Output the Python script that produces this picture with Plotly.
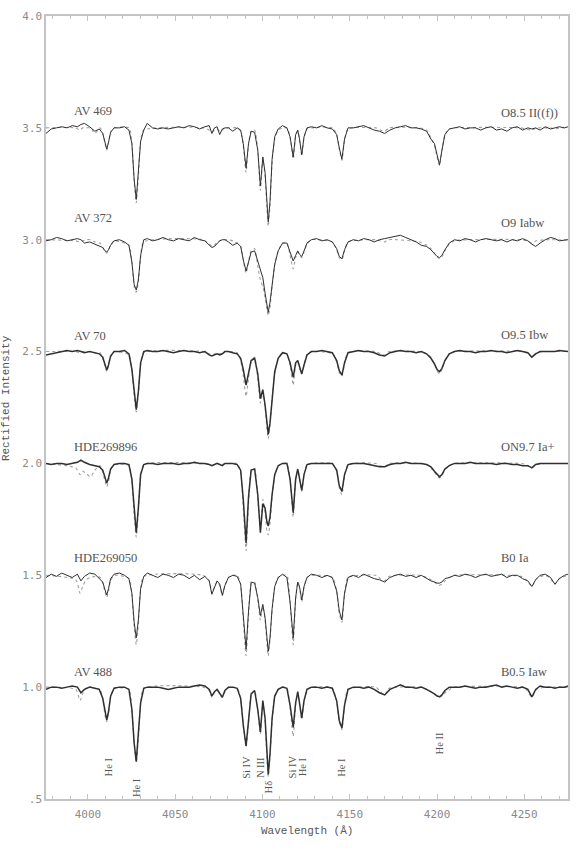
import plotly.graph_objects as go

# ---------------- data ----------------
STARS = ["AV 469", "AV 372", "AV 70", "HDE269896", "HDE269050", "AV 488"]
SPTYPES = ["O8.5 II((f))", "O9 Iabw", "O9.5 Ibw", "ON9.7 Ia+", "B0 Ia", "B0.5 Iaw"]

# observed-spectrum wavelength grid (Angstrom)
WAVE_OBS = [
    3976, 3979, 3982, 3985, 3988, 3991, 3994, 3996, 3998, 4001, 4004, 4006.5,
    4008.5, 4009.8, 4010.8, 4011.8, 4013, 4015,
    4018, 4021, 4023.5,
    4025.2, 4026.5, 4027.7, 4028.9, 4030.2, 4032,
    4034, 4037, 4040, 4043, 4046, 4049, 4052, 4055, 4058, 4061, 4064, 4067,
    4069.5, 4071, 4072.5, 4074, 4075.5, 4077, 4078.5, 4080.5, 4083, 4085.5,
    4087.5, 4089, 4090.6, 4092, 4093.5, 4095.5,
    4097.3, 4098.8, 4100.2, 4101.5, 4102.5, 4103.3, 4104.3, 4105.5, 4107, 4109, 4111.5,
    4114, 4115.8, 4117.6, 4119, 4120.2, 4121.2, 4122.5, 4123.8, 4125.5,
    4128, 4131, 4134, 4137, 4140, 4142.5, 4144, 4145.5, 4147, 4149,
    4152, 4155, 4158, 4161, 4164, 4167, 4170, 4173, 4176, 4179, 4182, 4185, 4188, 4191, 4194, 4196.5,
    4198.5, 4200, 4201.4, 4202.8, 4204.5, 4207,
    4210, 4213, 4216, 4219, 4222, 4225, 4228, 4231, 4234, 4237, 4240, 4243, 4246, 4249, 4252, 4254.3,
    4256.5, 4259, 4262, 4265, 4267.5, 4270, 4273, 4275,
]

# model-spectrum wavelength grid (Angstrom)
WAVE_MODEL = [
    3976, 3993, 3995.5, 3997, 3999, 4001.5, 4004, 4007,
    4008.5, 4009.8, 4010.8, 4011.8, 4013, 4015,
    4023.5, 4025.2, 4026.5, 4027.7, 4028.9, 4030.2, 4032,
    4066, 4069.5, 4071, 4072.5, 4074, 4075.5, 4077, 4078.5, 4081,
    4085.5, 4087.5, 4089, 4090.6, 4092, 4093.5, 4095.5,
    4097.3, 4098.8, 4100.2, 4101.5, 4102.5, 4103.3, 4104.3, 4105.5, 4107, 4109, 4111.5,
    4114, 4115.8, 4117.6, 4119, 4120.2, 4121.2, 4122.5, 4123.8, 4125.5, 4128,
    4140, 4142.5, 4144, 4145.5, 4147, 4149,
    4165, 4167.5, 4170, 4172.5,
    4190, 4194, 4196.5, 4198.5, 4200, 4201.4, 4202.8, 4204.5, 4207, 4210,
    4248, 4251, 4254.3, 4257, 4262, 4265, 4267.5, 4270, 4275,
]

# rectified intensities, observed
AV469_OBS = [
    0.975, 0.995, 1.0, 1.005, 1.0, 1.01, 1.005, 1.015, 1.02, 1.005, 0.985, 0.995,
    0.975, 0.93, 0.905, 0.935, 0.98, 1.0,
    1.0, 1.005, 0.99,
    0.93, 0.77, 0.68, 0.79, 0.94, 0.99,
    1.02, 1.0, 0.995, 1.0, 0.995, 1.0, 1.005, 1.0, 1.01, 1.005, 0.995, 1.005,
    1.01, 0.975, 1.0, 1.005, 0.97, 0.995, 1.0, 1.0, 0.985, 1.0,
    0.99, 0.93, 0.82, 0.93, 0.985, 0.98,
    0.9, 0.74, 0.87, 0.8, 0.66, 0.58, 0.67, 0.86, 0.96, 0.995, 1.01,
    1.0, 0.96, 0.87, 0.97, 0.99, 0.95, 0.88, 0.96, 1.0,
    1.005, 1.0, 1.01, 1.0, 0.995, 0.97, 0.91, 0.86, 0.95, 1.0,
    1.0, 1.005, 1.01, 1.0, 0.99, 0.985, 0.975, 0.99, 1.0, 1.005, 1.01, 1.0, 1.0, 0.995, 0.985, 0.95,
    0.93, 0.88, 0.835, 0.9, 0.97, 0.995,
    1.0, 1.005, 0.995, 1.0, 1.0, 0.99, 1.0, 1.005, 0.99, 0.995, 0.985, 1.0, 1.005, 0.99, 1.0, 0.995,
    1.0, 0.99, 1.005, 0.995, 1.0, 1.005, 1.0, 1.005,
]
AV372_OBS = [
    0.995, 1.0, 1.01, 1.005, 0.995, 1.0, 1.005, 1.0, 0.985, 0.99, 0.98, 0.975,
    0.965, 0.95, 0.945, 0.955, 0.975, 0.995,
    1.0, 0.99, 0.975,
    0.9, 0.8, 0.775, 0.82, 0.93, 1.0,
    1.005, 0.995, 1.0, 1.01, 1.0, 0.995, 1.005, 1.0, 0.995, 1.01, 1.0, 0.995,
    0.975, 0.965, 0.97, 0.985, 0.995, 1.0, 1.0, 0.99, 0.975, 0.985,
    0.97, 0.91, 0.86, 0.9, 0.945, 0.95,
    0.9, 0.86, 0.83, 0.76, 0.7, 0.675, 0.72, 0.8, 0.89, 0.95, 0.985,
    0.985, 0.94, 0.905, 0.93, 0.95, 0.935, 0.925, 0.95, 0.985,
    1.0, 1.005, 0.995, 1.0, 0.99, 0.96, 0.925, 0.915, 0.955, 0.99,
    1.0, 0.995, 1.005, 1.0, 0.99, 1.0, 1.005, 1.01, 1.015, 1.02, 1.01, 1.0, 0.99, 0.975, 0.97, 0.955,
    0.94, 0.925, 0.92, 0.93, 0.955, 0.985,
    1.0, 0.995, 1.005, 1.0, 0.99, 1.0, 1.005, 1.0, 0.995, 1.0, 0.99, 1.0, 0.995, 1.005, 0.995, 0.98,
    0.97, 0.985, 1.0, 1.01, 1.005, 0.995, 1.0, 1.0,
]
AV70_OBS = [
    0.985, 0.99, 0.995, 1.0, 1.005, 1.0, 1.005, 1.0, 0.995, 1.0, 0.995, 0.99,
    0.975, 0.94, 0.917, 0.94, 0.98, 1.0,
    1.0, 1.005, 0.99,
    0.92, 0.81, 0.74, 0.82, 0.95, 1.0,
    1.005, 1.0, 1.0, 1.005, 1.0, 0.995, 1.0, 1.005, 1.0, 1.0, 0.995, 1.0,
    0.985, 0.98, 0.985, 0.99, 0.985, 0.99, 1.0, 1.0, 0.995, 0.99,
    0.97, 0.92, 0.85, 0.9, 0.96, 0.97,
    0.9, 0.79, 0.83, 0.76, 0.68, 0.63, 0.68, 0.8, 0.91, 0.97, 0.995,
    0.99, 0.95, 0.885, 0.95, 0.96, 0.93, 0.9, 0.94, 0.985,
    1.0, 1.0, 1.005, 1.0, 0.995, 0.96, 0.915, 0.895, 0.95, 0.995,
    1.0, 1.005, 1.0, 1.0, 0.995, 0.985, 0.98, 0.995, 1.0, 1.005, 1.0, 1.0, 0.995, 1.0, 0.99, 0.97,
    0.945, 0.92, 0.91, 0.925, 0.96, 0.99,
    1.0, 1.005, 1.0, 1.0, 0.995, 1.0, 1.0, 1.005, 1.0, 1.0, 0.995, 1.0, 1.005, 1.0, 0.995, 0.975,
    0.99, 1.0, 1.0, 1.0, 1.0, 1.005, 1.0, 1.0,
]
HDE269896_OBS = [
    1.0, 0.995, 1.0, 1.0, 0.995, 1.0, 1.005, 1.015, 1.005, 0.995, 0.99, 0.985,
    0.97, 0.935, 0.912, 0.935, 0.975, 0.995,
    1.0, 1.0, 0.995,
    0.93, 0.79, 0.69, 0.8, 0.95, 0.995,
    1.0, 1.0, 0.995, 1.0, 1.0, 1.0, 0.995, 1.0, 1.0, 1.005, 1.0, 1.0,
    0.995, 0.99, 0.995, 1.0, 0.995, 0.99, 1.0, 1.0, 1.0, 0.995,
    0.97, 0.84, 0.645, 0.85, 0.97, 0.975,
    0.86, 0.69, 0.82, 0.8, 0.74, 0.72, 0.76, 0.86, 0.95, 0.99, 1.0,
    1.0, 0.93, 0.78, 0.93, 0.975, 0.94, 0.88, 0.95, 0.995,
    1.0, 1.0, 1.0, 1.0, 1.0, 0.97, 0.9, 0.875, 0.95, 0.995,
    1.0, 1.0, 1.0, 0.995, 0.99, 0.985, 0.985, 0.995, 1.0, 1.0, 1.005, 1.0, 1.0, 1.0, 0.995, 0.985,
    0.965, 0.95, 0.94, 0.95, 0.975, 0.99,
    1.0, 1.0, 1.0, 1.005, 1.0, 1.0, 1.0, 1.0, 0.995, 1.0, 1.0, 0.995, 0.995, 0.99, 0.99, 0.98,
    0.995, 1.0, 1.0, 1.0, 1.0, 1.0, 1.0, 1.0,
]
HDE269050_OBS = [
    0.99, 1.005, 0.995, 1.01, 1.0, 0.99, 1.005, 0.975, 0.995, 1.01, 1.005, 0.985,
    0.97, 0.935, 0.912, 0.94, 0.985, 1.005,
    1.01, 1.0, 0.985,
    0.92, 0.79, 0.72, 0.8, 0.94, 0.995,
    1.01, 1.0, 0.99, 1.005, 1.0, 0.99, 1.005, 1.0, 0.985, 1.0, 0.98, 0.995,
    0.975, 0.915, 0.95, 0.975, 0.96, 0.91, 0.955, 0.99, 1.0, 0.995,
    0.96, 0.82, 0.67, 0.84, 0.97, 0.965,
    0.9, 0.82, 0.87, 0.81, 0.72, 0.66, 0.72, 0.85, 0.95, 0.99, 1.005,
    0.99, 0.88, 0.72, 0.9, 0.97, 0.95, 0.89, 0.95, 0.99,
    1.005, 1.0, 0.99, 1.0, 0.99, 0.93, 0.84, 0.8, 0.92, 0.99,
    1.0, 0.99, 1.005, 0.995, 0.985, 0.98, 0.97, 0.99, 1.0, 1.005, 0.995, 1.0, 0.99, 1.0, 0.985, 0.975,
    0.97, 0.965, 0.965, 0.97, 0.985, 0.99,
    1.0, 0.995, 1.005, 1.0, 0.99, 1.0, 1.005, 0.995, 1.0, 1.005, 0.99, 1.0, 1.0, 0.985, 0.975, 0.95,
    0.98, 1.0, 1.005, 0.99, 0.96, 0.985, 1.0, 1.005,
]
AV488_OBS = [
    0.99, 1.0, 1.0, 0.995, 1.0, 1.005, 1.0, 0.975, 0.99, 1.0, 0.995, 0.99,
    0.95, 0.885, 0.853, 0.89, 0.96, 0.995,
    1.0, 1.0, 0.99,
    0.9, 0.75, 0.667, 0.78, 0.93, 0.995,
    1.0, 1.0, 1.0, 0.995, 0.99, 0.995, 1.0, 1.0, 1.0, 1.005, 1.01, 1.005,
    0.99, 0.96, 0.98, 0.99, 0.97, 0.955, 0.985, 1.0, 1.0, 0.995,
    0.95, 0.83, 0.737, 0.84, 0.97, 0.985,
    0.9, 0.8, 0.94, 0.86, 0.7, 0.61, 0.7, 0.86, 0.96, 0.99, 1.0,
    0.995, 0.92, 0.82, 0.93, 0.98, 0.93, 0.862, 0.94, 0.99,
    1.0, 1.0, 0.995, 1.0, 0.995, 0.94, 0.85, 0.817, 0.92, 0.99,
    1.0, 1.0, 0.995, 1.0, 0.99, 0.975, 0.965, 0.99, 1.0, 1.01, 1.0, 1.0, 0.995, 1.0, 0.99, 0.98,
    0.97, 0.96, 0.957, 0.965, 0.985, 1.0,
    1.0, 1.0, 1.005, 1.0, 0.995, 1.0, 1.0, 1.005, 1.01, 1.0, 1.005, 1.0, 0.995, 1.0, 0.99, 0.956,
    0.99, 1.005, 1.0, 1.0, 0.995, 1.0, 1.0, 1.005,
]

# rectified intensities, model
AV469_MODEL = [
    1.0, 1.0, 0.99, 1.0, 1.0, 1.0, 0.975, 1.0,
    0.975, 0.93, 0.9, 0.935, 0.98, 1.0,
    1.0, 0.93, 0.76, 0.665, 0.78, 0.94, 0.99,
    1.0, 0.99, 0.98, 0.99, 0.995, 0.985, 0.99, 1.0, 1.0,
    1.0, 0.985, 0.92, 0.8, 0.925, 0.985, 0.99,
    0.9, 0.72, 0.86, 0.78, 0.64, 0.56, 0.65, 0.84, 0.95, 0.99, 1.0,
    1.0, 0.96, 0.86, 0.96, 0.985, 0.95, 0.875, 0.955, 0.995, 1.0,
    1.0, 0.97, 0.905, 0.855, 0.945, 0.995,
    1.0, 0.99, 0.985, 1.0,
    1.0, 0.99, 0.955, 0.92, 0.87, 0.83, 0.9, 0.97, 0.995, 1.0,
    1.0, 0.995, 0.99, 1.0, 1.0, 1.0, 0.995, 1.0, 1.0,
]
AV372_MODEL = [
    1.0, 0.995, 0.99, 0.995, 1.0, 1.0, 0.99, 0.985,
    0.965, 0.95, 0.94, 0.955, 0.975, 0.995,
    0.975, 0.9, 0.79, 0.765, 0.81, 0.92, 0.99,
    1.0, 0.98, 0.97, 0.975, 0.99, 0.995, 1.0, 1.0, 1.0,
    0.985, 0.97, 0.91, 0.85, 0.9, 0.95, 0.96,
    0.88, 0.82, 0.79, 0.74, 0.69, 0.66, 0.7, 0.79, 0.885, 0.95, 0.985,
    0.985, 0.93, 0.87, 0.92, 0.945, 0.93, 0.92, 0.945, 0.98, 1.0,
    0.99, 0.955, 0.92, 0.91, 0.95, 0.99,
    1.0, 0.995, 0.99, 1.0,
    0.99, 0.975, 0.96, 0.94, 0.925, 0.915, 0.925, 0.95, 0.98, 0.995,
    1.0, 0.995, 0.985, 0.995, 1.0, 1.0, 1.0, 1.0, 1.0,
]
AV70_MODEL = [
    1.0, 1.0, 0.995, 1.0, 1.0, 1.0, 0.995, 0.995,
    0.97, 0.935, 0.91, 0.935, 0.975, 1.0,
    0.985, 0.915, 0.8, 0.73, 0.81, 0.94, 0.995,
    1.0, 0.99, 0.985, 0.99, 0.995, 0.99, 0.995, 1.0, 1.0,
    0.995, 0.96, 0.89, 0.8, 0.88, 0.955, 0.975,
    0.88, 0.77, 0.82, 0.75, 0.66, 0.61, 0.67, 0.79, 0.9, 0.97, 0.995,
    0.99, 0.94, 0.85, 0.94, 0.955, 0.925, 0.9, 0.94, 0.985, 1.0,
    0.99, 0.955, 0.905, 0.89, 0.945, 0.995,
    1.0, 0.99, 0.985, 1.0,
    1.0, 0.99, 0.975, 0.945, 0.915, 0.9, 0.92, 0.96, 0.99, 1.0,
    1.0, 0.995, 0.975, 0.995, 1.0, 1.0, 1.0, 1.0, 1.0,
]
HDE269896_MODEL = [
    1.0, 0.98, 0.95, 0.965, 0.955, 0.94, 0.97, 0.99,
    0.96, 0.92, 0.895, 0.92, 0.97, 0.995,
    0.99, 0.92, 0.77, 0.67, 0.79, 0.945, 0.995,
    1.0, 0.995, 0.99, 0.995, 1.0, 0.995, 0.995, 1.0, 1.0,
    1.0, 0.96, 0.8, 0.61, 0.82, 0.965, 0.975,
    0.85, 0.72, 0.84, 0.78, 0.7, 0.68, 0.73, 0.85, 0.945, 0.99, 1.0,
    1.0, 0.93, 0.76, 0.925, 0.97, 0.935, 0.875, 0.95, 0.995, 1.0,
    1.0, 0.965, 0.89, 0.86, 0.945, 0.995,
    1.0, 0.99, 0.985, 1.0,
    1.0, 0.995, 0.98, 0.96, 0.945, 0.935, 0.945, 0.97, 0.99, 1.0,
    1.0, 0.995, 0.98, 0.995, 1.0, 1.0, 1.0, 1.0, 1.0,
]
HDE269050_MODEL = [
    1.0, 0.98, 0.92, 0.95, 0.98, 0.99, 0.995, 0.99,
    0.965, 0.925, 0.9, 0.93, 0.975, 1.0,
    0.985, 0.91, 0.77, 0.69, 0.78, 0.935, 0.995,
    1.0, 0.975, 0.92, 0.95, 0.97, 0.955, 0.91, 0.955, 0.995,
    1.0, 0.96, 0.8, 0.64, 0.82, 0.96, 0.97,
    0.89, 0.8, 0.86, 0.8, 0.7, 0.64, 0.71, 0.84, 0.945, 0.99, 1.0,
    1.0, 0.88, 0.69, 0.89, 0.965, 0.945, 0.88, 0.945, 0.99, 1.0,
    0.99, 0.93, 0.83, 0.79, 0.915, 0.99,
    1.0, 0.985, 0.975, 0.995,
    1.0, 0.99, 0.98, 0.97, 0.96, 0.955, 0.96, 0.975, 0.99, 1.0,
    0.995, 0.98, 0.95, 0.985, 1.0, 0.985, 0.96, 0.985, 1.0,
]
AV488_MODEL = [
    1.0, 0.99, 0.94, 0.97, 0.995, 1.0, 0.995, 0.99,
    0.945, 0.875, 0.845, 0.885, 0.955, 0.995,
    0.99, 0.9, 0.75, 0.665, 0.77, 0.925, 0.995,
    1.0, 0.985, 0.955, 0.975, 0.985, 0.97, 0.955, 0.98, 1.0,
    0.995, 0.95, 0.83, 0.73, 0.835, 0.965, 0.985,
    0.9, 0.79, 0.93, 0.85, 0.69, 0.6, 0.69, 0.85, 0.955, 0.99, 1.0,
    0.995, 0.91, 0.78, 0.92, 0.975, 0.925, 0.855, 0.935, 0.985, 1.0,
    0.995, 0.935, 0.845, 0.81, 0.915, 0.99,
    1.0, 0.98, 0.965, 0.995,
    1.0, 0.99, 0.98, 0.97, 0.96, 0.955, 0.96, 0.975, 0.99, 1.0,
    1.0, 0.99, 0.955, 0.99, 1.0, 1.0, 1.0, 1.0, 1.0,
]

OBSERVED = [AV469_OBS, AV372_OBS, AV70_OBS, HDE269896_OBS, HDE269050_OBS, AV488_OBS]
MODELS = [AV469_MODEL, AV372_MODEL, AV70_MODEL, HDE269896_MODEL, HDE269050_MODEL, AV488_MODEL]

# line identifications (label, wavelength)
LINE_LABELS = ["He I", "He I", "Si IV", "N III", "H\u03b4", "Si IV", "He I", "He I", "He II"]
LINE_WAVES = [4011.6, 4027.5, 4090.9, 4098.5, 4103.3, 4117.0, 4122.7, 4145.3, 4201.6]

Y_TICKS = [0.5, 1.0, 1.5, 2.0, 2.5, 3.0, 3.5, 4.0]
Y_TICK_TEXT = [".5", "1.0", "1.5", "2.0", "2.5", "3.0", "3.5", "4.0"]

# ---------------- figure ----------------
OFFSET_STEP = 0.5
n = len(STARS)
noisy = {"AV 70", "HDE269896", "AV 488"}
fig = go.Figure()

for i in range(n):
    off = OFFSET_STEP * (n - 1 - i)
    fig.add_trace(go.Scatter(
        x=WAVE_MODEL, y=[v + off for v in MODELS[i]], mode="lines",
        line=dict(color="#a0a0a0", width=1.1, dash="dot", shape="spline", smoothing=0.6),
        hoverinfo="skip", showlegend=False))
    fig.add_trace(go.Scatter(
        x=WAVE_OBS, y=[v + off for v in OBSERVED[i]], mode="lines",
        line=dict(color="#303030", width=1.5 if STARS[i] in noisy else 1.0),
        name=STARS[i], showlegend=False))

label_font = dict(family="Liberation Serif, DejaVu Serif, serif", size=12.5, color="#555555")
name_dy = [0.074, 0.095, 0.069, 0.074, 0.077, 0.069]
type_dy = [0.067, 0.073, 0.073, 0.075, 0.076, 0.069]
for i in range(n):
    off = OFFSET_STEP * (n - 1 - i)
    fig.add_annotation(x=3990.8, y=1.0 + off + name_dy[i], text=STARS[i], showarrow=False,
                       xanchor="left", yanchor="middle", font=label_font)
    fig.add_annotation(x=4235.4, y=1.0 + off + type_dy[i], text=SPTYPES[i], showarrow=False,
                       xanchor="left", yanchor="middle", font=label_font)

line_font = dict(family="Liberation Serif, DejaVu Serif, serif", size=10.5, color="#555555")
lower = {"He I@4027.5": 0.553, "H\u03b4@4103.3": 0.553, "He II@4201.6": 0.748}
for lab, w in zip(LINE_LABELS, LINE_WAVES):
    yc = lower.get(f"{lab}@{w}", 0.642)
    fig.add_annotation(x=w, y=yc, text=lab, showarrow=False, textangle=-90,
                       xanchor="center", yanchor="middle", font=line_font)

axis_col = "#c4c4c4"
tick_font = dict(family="DejaVu Sans Mono, monospace", size=11, color="#8a8a8a")
title_font = dict(family="Liberation Mono, DejaVu Sans Mono, monospace", size=11, color="#555555")

# axis titles placed explicitly
fig.add_annotation(xref="paper", yref="paper", x=0.5, y=-0.0405, text="Wavelength (\u00c5)",
                   showarrow=False, xanchor="center", yanchor="middle", font=title_font)
fig.add_annotation(xref="paper", yref="paper", x=-0.0766, y=0.512, text="Rectified Intensity",
                   showarrow=False, textangle=-90, xanchor="center", yanchor="middle", font=title_font)

fig.update_layout(
    width=585, height=859,
    margin=dict(l=46, r=17, t=16, b=60, autoexpand=False),
    paper_bgcolor="white", plot_bgcolor="white",
    xaxis=dict(
        range=[3976, 4275], showgrid=False, zeroline=False, automargin=False,
        showline=True, linecolor=axis_col, linewidth=1.5, mirror="ticks",
        ticks="inside", ticklen=5, tickcolor=axis_col, tickwidth=1,
        tick0=4000, dtick=50, tickfont=tick_font, ticklabelstandoff=4,
        minor=dict(ticks="inside", ticklen=3, dtick=10, tick0=4000, tickcolor=axis_col, showgrid=False),
    ),
    yaxis=dict(
        range=[0.5, 4.0], showgrid=False, zeroline=False, automargin=False,
        showline=True, linecolor=axis_col, linewidth=1.5, mirror=True,
        ticks="", tickvals=Y_TICKS, ticktext=Y_TICK_TEXT, tickfont=tick_font,
    ),
)

fig.write_html(
    "out.html",
    config={"displayModeBar": False},
    post_script="document.body.style.margin='0';document.body.style.padding='0';"
                "document.documentElement.style.overflow='hidden';",
)
